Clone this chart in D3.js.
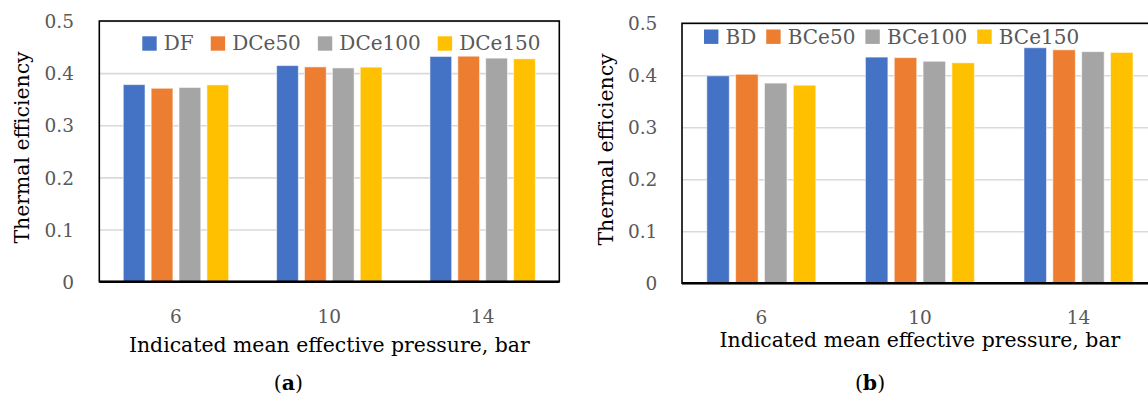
<!DOCTYPE html>
<html>
<head>
<meta charset="utf-8">
<script src="https://cdn.jsdelivr.net/npm/d3@7"></script>
<style>
  body { margin: 0; background: #fff; }
  svg { display: block; }
  text { font-family: "DejaVu Serif", serif; }
</style>
</head>
<body>
<svg id="chart" width="1148" height="394"></svg>
<script>
// Indicated mean effective pressure (bar) — the category axis
const pressures = ["6", "10", "14"];
const yTickValues = [0, 0.1, 0.2, 0.3, 0.4, 0.5];

// (a) diesel fuel and its cerium-oxide blends
const seriesNamesA = ["DF", "DCe50", "DCe100", "DCe150"];
const efficiencyDF     = [0.378, 0.4145, 0.432];
const efficiencyDCe50  = [0.371, 0.412, 0.4325];
const efficiencyDCe100 = [0.3725, 0.410, 0.4288];
const efficiencyDCe150 = [0.3775, 0.4115, 0.4275];

// (b) biodiesel and its cerium-oxide blends
const seriesNamesB = ["BD", "BCe50", "BCe100", "BCe150"];
const efficiencyBD     = [0.399, 0.435, 0.453];
const efficiencyBCe50  = [0.402, 0.434, 0.449];
const efficiencyBCe100 = [0.385, 0.427, 0.4455];
const efficiencyBCe150 = [0.381, 0.424, 0.444];

const palette = ["#4472C4", "#ED7D31", "#A5A5A5", "#FFC000"];

const svg = d3.select("#chart");

function drawPanel(cfg, names, valueArrays) {
  const g = svg.append("g");
  const y = d3.scaleLinear().domain([0, 0.5]).range([cfg.bottom, cfg.top]);
  const x0 = d3.scaleBand().domain(pressures).range([cfg.left, cfg.right]).padding(0);
  const x1 = d3.scaleBand().domain(names).range([0, x0.bandwidth()])
    .paddingInner(0.22).paddingOuter(0.86);
  const color = d3.scaleOrdinal().domain(names).range(palette);

  // horizontal gridlines
  const grid = g.append("g")
    .attr("transform", `translate(${cfg.left},0)`)
    .call(d3.axisLeft(y).tickValues(yTickValues.slice(1)).tickSize(-(cfg.right - cfg.left)).tickFormat(""));
  grid.select(".domain").remove();
  grid.selectAll("line").attr("stroke", "#d9d9d9").attr("stroke-width", 1.6);

  // y tick labels
  const yAxis = g.append("g")
    .attr("transform", `translate(${cfg.left},0)`)
    .call(d3.axisLeft(y).tickValues(yTickValues).tickSize(0).tickPadding(cfg.left - cfg.tickRight)
      .tickFormat(d => d === 0 ? "0" : d3.format(".1f")(d)));
  yAxis.select(".domain").remove();
  yAxis.selectAll("text")
    .attr("dy", "0.36em")
    .style("font-family", '"DejaVu Serif", serif')
    .style("font-size", "18.5px")
    .attr("fill", "#595959");

  // bars
  const rows = pressures.map((p, i) => ({ p, vals: names.map((n, k) => ({ n, v: valueArrays[k][i] })) }));
  g.append("g").selectAll("g").data(rows).join("g")
    .attr("transform", d => `translate(${x0(d.p)},0)`)
    .selectAll("rect").data(d => d.vals).join("rect")
    .attr("x", d => x1(d.n))
    .attr("width", x1.bandwidth())
    .attr("y", d => y(d.v))
    .attr("height", d => y(0) - y(d.v))
    .attr("fill", d => color(d.n))
    .attr("stroke", "rgba(255,255,255,0.55)")
    .attr("stroke-width", 1);

  // plot frame and base line
  g.append("rect")
    .attr("x", cfg.left).attr("y", cfg.top)
    .attr("width", cfg.right - cfg.left).attr("height", cfg.bottom - cfg.top)
    .attr("fill", "none").attr("stroke", "#000").attr("stroke-width", 1.6);
  g.append("line")
    .attr("x1", cfg.left).attr("x2", cfg.right)
    .attr("y1", y(0)).attr("y2", y(0))
    .attr("stroke", "#000").attr("stroke-width", 2.6);

  // x tick labels
  const xAxis = g.append("g")
    .attr("transform", `translate(0,${cfg.bottom})`)
    .call(d3.axisBottom(x0).tickSize(0).tickPadding(cfg.xTickOffset));
  xAxis.select(".domain").remove();
  xAxis.selectAll("text")
    .attr("dy", "0.36em")
    .style("font-family", '"DejaVu Serif", serif')
    .style("font-size", "18.5px")
    .attr("fill", "#595959");

  // axis titles
  g.append("text")
    .attr("x", (cfg.left + cfg.right) / 2).attr("y", cfg.xTitleBase)
    .attr("text-anchor", "middle")
    .style("font-size", "20.4px").attr("fill", "#000")
    .text("Indicated mean effective pressure, bar");
  g.append("text")
    .attr("transform", `translate(${cfg.yTitleBase},${cfg.yTitleMid}) rotate(-90)`)
    .attr("text-anchor", "middle")
    .style("font-size", "20.4px").attr("fill", "#000")
    .text("Thermal efficiency");

  // panel label
  const lab = g.append("text")
    .attr("x", cfg.labelX).attr("y", cfg.labelBase)
    .attr("text-anchor", "middle")
    .style("font-size", "20.4px").attr("fill", "#000");
  lab.append("tspan").text("(");
  lab.append("tspan").attr("font-weight", "bold").text(cfg.label);
  lab.append("tspan").text(")");

  // legend inside the plot area
  let cx = cfg.legendX;
  names.forEach(n => {
    g.append("rect")
      .attr("x", cx).attr("y", cfg.legendBase - 14)
      .attr("width", 14.4).attr("height", 14.4)
      .attr("fill", color(n));
    const t = g.append("text")
      .attr("x", cx + 21.5).attr("y", cfg.legendBase)
      .style("font-size", "20px").attr("fill", "#595959")
      .text(n);
    cx = cx + 21.5 + t.node().getComputedTextLength() + cfg.legendGap;
  });
}

drawPanel({
  left: 99.3, right: 559.3, top: 21, bottom: 281.7,
  tickRight: 74, xTickOffset: 35, xTitleBase: 351.7,
  yTitleBase: 29.3, yTitleMid: 147.5,
  labelX: 288.3, labelBase: 390, label: "a",
  legendX: 142.3, legendBase: 50.3, legendGap: 17
}, seriesNamesA, [efficiencyDF, efficiencyDCe50, efficiencyDCe100, efficiencyDCe150]);

drawPanel({
  left: 682, right: 1157.8, top: 23.3, bottom: 283.3,
  tickRight: 657.3, xTickOffset: 34.2, xTitleBase: 346.7,
  yTitleBase: 613, yTitleMid: 149.5,
  labelX: 870, labelBase: 390, label: "b",
  legendX: 704, legendBase: 43.5, legendGap: 10
}, seriesNamesB, [efficiencyBD, efficiencyBCe50, efficiencyBCe100, efficiencyBCe150]);
</script>
</body>
</html>
